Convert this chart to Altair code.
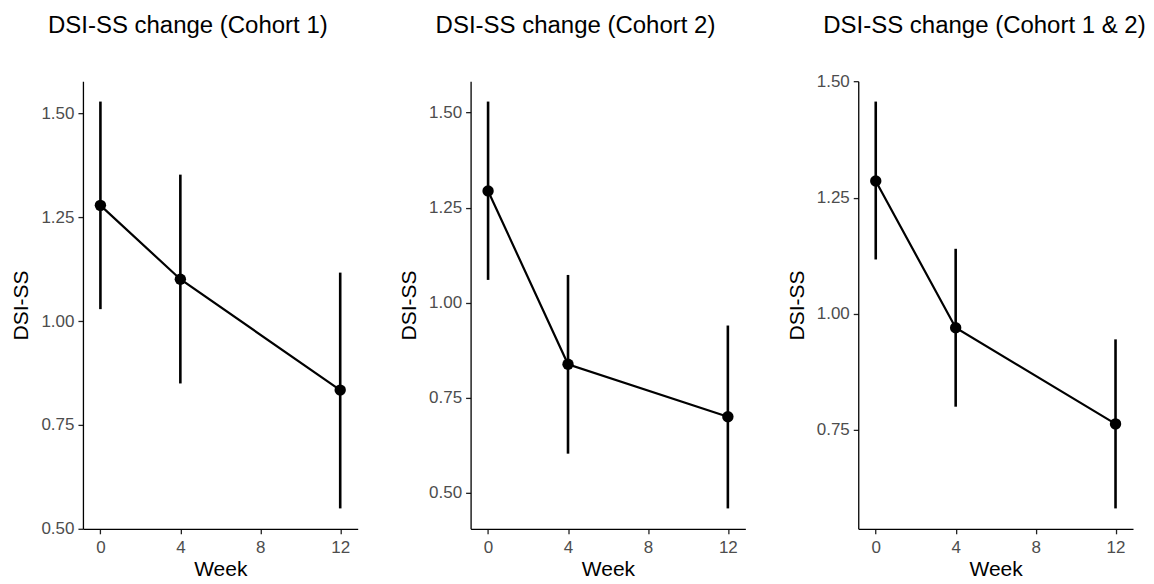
import altair as alt
import pandas as pd

# ---- data ----
weeks = [0, 4, 12]
x_ticks = [0, 4, 8, 12]

titles = ["DSI-SS change (Cohort 1)", "DSI-SS change (Cohort 2)", "DSI-SS change (Cohort 1 & 2)"]

c1_mean = [1.279, 1.101, 0.834]
c1_low = [1.029, 0.850, 0.549]
c1_high = [1.529, 1.353, 1.117]

c2_mean = [1.294, 0.838, 0.700]
c2_low = [1.060, 0.603, 0.459]
c2_high = [1.529, 1.073, 0.940]

c12_mean = [1.286, 0.970, 0.763]
c12_low = [1.117, 0.800, 0.581]
c12_high = [1.457, 1.140, 0.945]

y_ticks_a = [0.50, 0.75, 1.00, 1.25, 1.50]
y_ticks_b = [0.50, 0.75, 1.00, 1.25, 1.50]
y_ticks_c = [0.75, 1.00, 1.25, 1.50]

FONT = "Liberation Sans"


def panel(title, mean, low, high, yticks, title_offset):
    df = pd.DataFrame({"week": weeks, "mean": mean, "low": low, "high": high})
    lo, hi = min(low), max(high)
    pad = 0.05 * (hi - lo)
    ydom = [lo - pad - 1e-4, hi + pad + 1e-4]
    xs = alt.Scale(domain=[-0.875, 12.875], nice=False, zero=False)
    ys = alt.Scale(domain=ydom, nice=False, zero=False)
    xax = alt.Axis(values=x_ticks, title="Week", format="d")
    yax = alt.Axis(values=yticks, title="DSI-SS", format=".2f")
    base = alt.Chart(df)
    err = base.mark_rule(color="black", strokeWidth=2.6).encode(
        x=alt.X("week:Q", scale=xs, axis=xax),
        y=alt.Y("low:Q", scale=ys, axis=yax),
        y2="high:Q",
    )
    line = base.mark_line(color="black", strokeWidth=2.2).encode(
        x=alt.X("week:Q", scale=xs, axis=xax),
        y=alt.Y("mean:Q", scale=ys, axis=yax),
    )
    pts = base.mark_circle(color="black", size=130, opacity=1).encode(
        x=alt.X("week:Q", scale=xs, axis=xax),
        y=alt.Y("mean:Q", scale=ys, axis=yax),
    )
    return alt.layer(err, line, pts).properties(
        width=275,
        height=448,
        title=alt.TitleParams(
            text=title,
            anchor="start",
            frame="group",
            dx=-35,
            fontSize=24,
            font=FONT,
            fontWeight="normal",
            color="black",
            baseline="alphabetic",
            offset=title_offset,
        ),
    )


chart = alt.hconcat(
    panel(titles[0], c1_mean, c1_low, c1_high, y_ticks_a, 24),
    panel(titles[1], c2_mean, c2_low, c2_high, y_ticks_b, 24),
    panel(titles[2], c12_mean, c12_low, c12_high, y_ticks_c, 16),
    spacing=40,
).properties(
    padding={"left": 2, "top": 5, "right": 0, "bottom": 0}
).configure_view(
    stroke=None
).configure_axis(
    grid=False,
    domainColor="black",
    domainWidth=1.3,
    tickColor="#222222",
    tickWidth=1.3,
    tickSize=5,
    labelColor="#4d4d4d",
    labelFont=FONT,
    labelFontSize=17,
    titleFont=FONT,
    titleFontSize=21,
    titleFontWeight="normal",
    titleColor="black",
    labelPadding=4,
).configure_axisY(
    titlePadding=9,
).configure_axisX(
    labelPadding=6,
    titlePadding=3,
)

chart.save("out.html", embed_options={"renderer": "svg", "actions": False})
